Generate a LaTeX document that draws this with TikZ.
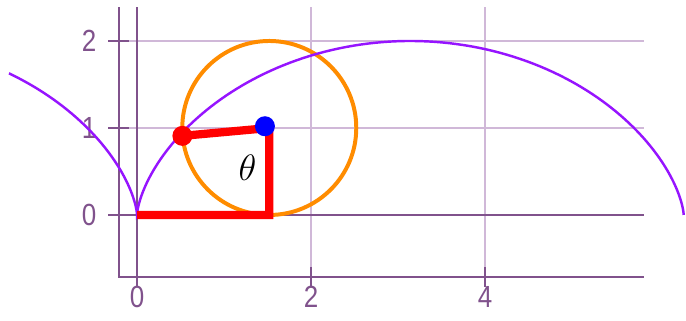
\documentclass[tikz,border=0pt]{standalone}
\usepackage{fontspec}
\newfontfamily\ticksf{Liberation Sans}
\definecolor{axiscol}{RGB}{128,82,140}
\definecolor{gridcol}{RGB}{208,184,216}
\definecolor{cyclcol}{RGB}{150,20,255}
\definecolor{wheelcol}{RGB}{255,140,0}

\begin{document}
\begin{tikzpicture}[line width=0.6pt,
  axis/.style={draw=axiscol,line width=0.7pt},
  gridline/.style={draw=gridcol,line width=0.7pt},
  ticklab/.style={text=axiscol,font=\ticksf\fontsize{10}{12}\selectfont,inner sep=0pt,xscale=0.85},
  arm/.style={red,line width=2.7pt}]
\useasboundingbox (-1.575,-1.218) rectangle (6.310,2.471);
% ---------- grid and ticks ----------
\foreach \x in {2,4}{
  \draw[gridline] (\x,-0.713) -- (\x,2.39);
  \draw[axis] (\x,-0.598) -- (\x,-0.828);}
\foreach \y in {1,2}{
  \draw[gridline] (-0.092,\y) -- (5.83,\y);
  \draw[axis] (-0.333,\y) -- (-0.092,\y);}
% ---------- frame and axes ----------
\draw[axis] (-0.207,2.39) -- (-0.207,-0.713) -- (5.83,-0.713);
\draw[axis] (0,2.39) -- (0,-0.828);
\draw[axis] (-0.333,0) -- (5.83,0);
\foreach \x in {0,2,4}{ \node[ticklab] (xlab\x) at (\x,-0.94) {\x}; }
\foreach \y in {0,1,2}{ \node[ticklab] (ylab\y) at (-0.55,\y) {\y}; }
% ---------- rolling circle and cycloid ----------
\draw[wheelcol,line width=1.3pt] (1.52,1) circle (1);
\draw[cyclcol,line width=0.8pt,domain=-2.25:6.2832,samples=200,variable=\t]
  plot ({\t-sin(\t r)},{1-cos(\t r)});
% ---------- angle theta ----------
\coordinate (O) at (0,0);
\coordinate (B) at (1.52,0);
\coordinate (C) at (1.52,1);
\coordinate (P) at ({1.52-sin(1.52 r)},{0.96-cos(1.52 r)});
\draw[arm] (O) -- (B) -- (C) -- (P);
\fill[red] (P) circle (0.115);
\fill[blue] ([shift={(-0.05,0.02)}]C) circle (0.115);
\node[font=\fontsize{13}{15}\selectfont] (theta) at (1.27,0.54) {$\theta$};
\end{tikzpicture}
\end{document}
